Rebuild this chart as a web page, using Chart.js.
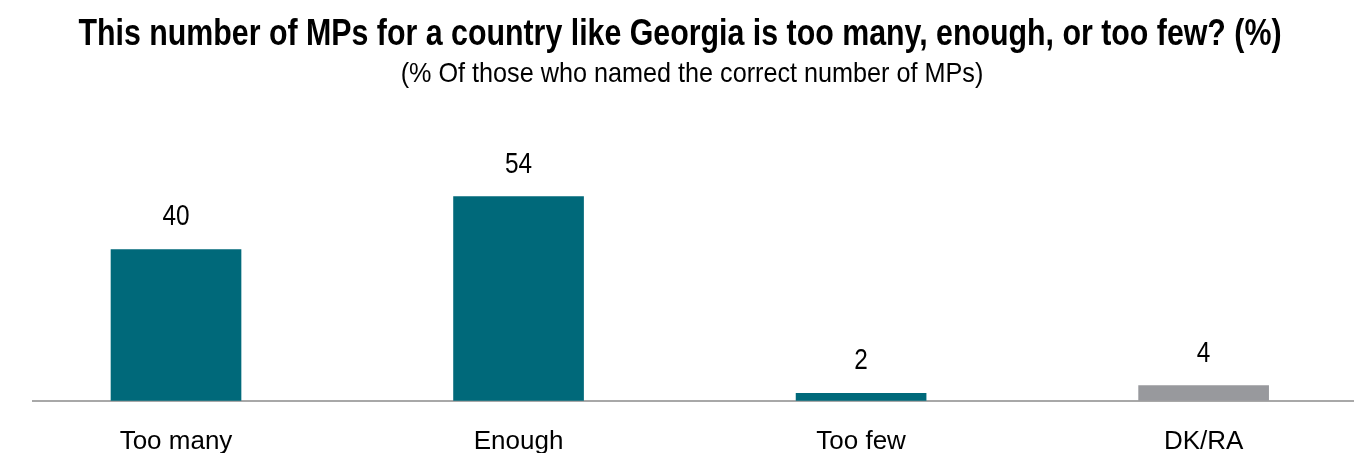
<!DOCTYPE html>
<html>
<head>
<meta charset="utf-8">
<script src="https://cdn.jsdelivr.net/npm/chart.js@4/dist/chart.umd.min.js"></script>
<style>
  html, body { margin: 0; padding: 0; background: #fff; overflow: hidden; }
  #wrap { position: relative; width: 1354px; height: 482px; }
</style>
</head>
<body>
<div id="wrap"><canvas id="mp-chart"></canvas></div>
<script>
// Answers and shares (%)
const categories = ['Too many', 'Enough', 'Too few', 'DK/RA'];
const shares = [40, 54, 2, 4];
const barColors = ['#00697a', '#00697a', '#00697a', '#98999d'];

const titleText = 'This number of MPs for a country like Georgia is too many, enough, or too few? (%)';
const subtitleText = '(% Of those who named the correct number of MPs)';

const FONT = '"Liberation Sans", Arial, sans-serif';

// fillText squeezed horizontally, to get a condensed look
function condensedText(ctx, text, x, y, squeeze) {
  const w = ctx.measureText(text).width;
  ctx.fillText(text, x, y, w * squeeze);
}

// Heading block and the number above every bar
const textLayer = {
  id: 'textLayer',
  afterDraw(chart) {
    const ctx = chart.ctx;
    ctx.save();
    ctx.fillStyle = '#000';
    ctx.textAlign = 'center';
    ctx.textBaseline = 'alphabetic';

    ctx.font = 'bold 37px ' + FONT;
    condensedText(ctx, titleText, 680, 45, 0.82);

    ctx.font = '28px ' + FONT;
    condensedText(ctx, subtitleText, 692, 82, 0.9);

    ctx.font = '29px ' + FONT;
    chart.getDatasetMeta(0).data.forEach((bar, i) => {
      condensedText(ctx, String(shares[i]), bar.x, bar.y - 24, 0.84);
    });
    ctx.restore();
  }
};

const ctx = document.getElementById('mp-chart').getContext('2d');
const chart = new Chart(ctx, {
  type: 'bar',
  data: {
    datasets: [{
      data: shares.map((v, i) => ({ x: i, y: v })),
      backgroundColor: barColors,
      borderWidth: 0,
      barThickness: 130
    }]
  },
  options: {
    responsive: true,
    maintainAspectRatio: false,
    animation: false,
    layout: { padding: { left: 33, right: 0, top: 136, bottom: 0 } },
    plugins: {
      legend: { display: false },
      tooltip: { enabled: false }
    },
    scales: {
      x: {
        type: 'linear',
        offset: false,
        min: -0.4175,
        max: 3.439,
        afterBuildTicks(scale) {
          scale.ticks = categories.map((c, i) => ({ value: i }));
        },
        ticks: {
          callback: (v) => categories[v],
          color: '#000',
          font: { family: FONT, size: 26 },
          padding: 25,
          maxRotation: 0,
          autoSkip: false
        },
        grid: { display: false, drawTicks: false },
        border: { display: true, color: '#a8a8a8', width: 2 }
      },
      y: {
        display: false,
        min: 0,
        max: 70
      }
    }
  },
  plugins: [textLayer]
});
</script>
</body>
</html>
